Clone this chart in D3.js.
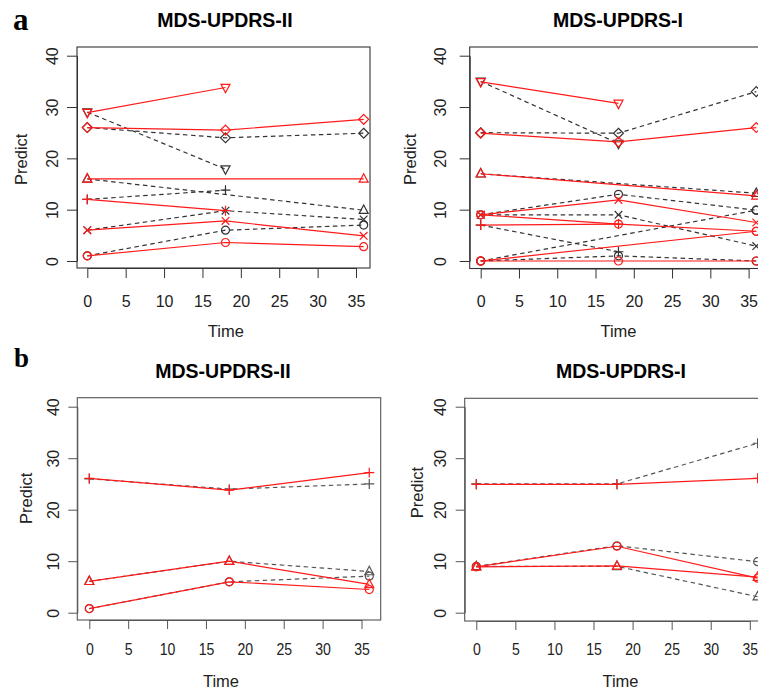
<!DOCTYPE html>
<html>
<head>
<meta charset="utf-8">
<script src="https://cdn.jsdelivr.net/npm/d3@7"></script>
<style>
  body { margin: 0; background: #fff; }
  svg { display: block; }
  text { font-family: "Liberation Sans", Arial, sans-serif; fill: #222; }
</style>
</head>
<body>
<div id="vis-container"></div>
<script>
// Tick values and titles
const xTicks = [0, 5, 10, 15, 20, 25, 30, 35];
const yTicks = [0, 10, 20, 30, 40];
const titles = ["MDS-UPDRS-II", "MDS-UPDRS-I", "MDS-UPDRS-II", "MDS-UPDRS-I"];
const panelLetters = ["a", "b"];

// Panel a, MDS-UPDRS-II (observed = black dashed, predicted = red)
const aIIShapes = ["triangleDown", "diamond", "triangle", "plus", "times", "circle"];
const aIITimes = [[0, 18], [0, 18, 36], [0, 36], [0, 18], [0, 18, 36], [0, 18, 36]];
const aIIObserved = [[29, 17.9], [26, 24, 24.9], [16, 9.9], [12, 13.8], [6, 9.8, 8.1], [1, 6, 7]];
const aIIPredicted = [[28.9, 33.8], [26, 25.5, 27.6], [16, 16], [12, 9.8], [6, 7.8, 4.9], [1, 3.6, 2.8]];

// Panel a, MDS-UPDRS-I
const aIShapes = ["triangleDown", "diamond", "triangle", "circle", "times", "plus", "circle", "circle"];
const aITimes = [[0, 18], [0, 18, 36], [0, 36], [0, 18, 36], [0, 18, 36], [0, 18], [0, 18, 36], [0, 36]];
const aIObserved = [[35, 22.9], [25, 24.9, 33], [17, 13.2], [9, 13, 9.9], [9, 9, 2.9], [7, 1.8], [0, 1, 0], [0, 9.9]];
const aIPredicted = [[34.9, 30.7], [24.9, 23.2, 26], [17, 12.7], [9, 7.2, 5.8], [9, 11.9, 7.5], [7, 7.2], [0, 0, 0], [0, 5.8]];

// Panel b, MDS-UPDRS-II
const bIIShapes = ["plus", "triangle", "circle"];
const bIITimes = [[0, 18, 36], [0, 18, 36], [0, 18, 36]];
const bIIObserved = [[26, 24, 25], [6.1, 10, 8], [0.8, 6, 7.1]];
const bIIPredicted = [[26.1, 23.8, 27.2], [6.1, 10, 5.5], [0.8, 6, 4.5]];

// Panel b, MDS-UPDRS-I
const bIShapes = ["plus", "circle", "triangle"];
const bITimes = [[0, 18, 36], [0, 18, 36], [0, 18, 36]];
const bIObserved = [[25, 25, 32.9], [9, 13, 9.9], [9, 9, 3.1]];
const bIPredicted = [[24.9, 24.9, 26.1], [8.9, 12.9, 6.7], [8.9, 9.1, 6.9]];

const width = 758;
const height = 692;

const svg = d3.select("#vis-container")
  .append("svg")
  .attr("width", width)
  .attr("height", height);

// R-like plotting symbols as custom d3.symbol types
const shapeTypes = {
  circle: { draw(c, s) { const r = Math.sqrt(s) / 2; c.moveTo(r, 0); c.arc(0, 0, r, 0, 2 * Math.PI); } },
  triangle: { draw(c, s) { const h = Math.sqrt(s) / 2; c.moveTo(0, -h * 1.15); c.lineTo(h, h * 0.72); c.lineTo(-h, h * 0.72); c.closePath(); } },
  triangleDown: { draw(c, s) { const h = Math.sqrt(s) / 2; c.moveTo(0, h * 1.15); c.lineTo(h, -h * 0.72); c.lineTo(-h, -h * 0.72); c.closePath(); } },
  diamond: { draw(c, s) { const h = Math.sqrt(s) / 2 * 1.1; c.moveTo(0, -h); c.lineTo(h, 0); c.lineTo(0, h); c.lineTo(-h, 0); c.closePath(); } },
  plus: { draw(c, s) { const h = Math.sqrt(s) / 2 * 1.1; c.moveTo(-h, 0); c.lineTo(h, 0); c.moveTo(0, -h); c.lineTo(0, h); } },
  times: { draw(c, s) { const h = Math.sqrt(s) / 2 * 0.85; c.moveTo(-h, -h); c.lineTo(h, h); c.moveTo(-h, h); c.lineTo(h, -h); } }
};

// Panel placement (pixels)
const panels = [
  { shapes: aIIShapes, times: aIITimes, obs: aIIObserved, pred: aIIPredicted,
    box: [77, 47, 370, 268], xr: [87.3, 356], yr: [261, 55.7], tick: 10,
    title: [225, 26.7], yLabOff: 19, predict: [26.7, 159.3], xLab: 307, time: [225.8, 337],
    frame: "#333", dash: "#333", squeeze: 1 },
  { shapes: aIShapes, times: aITimes, obs: aIObserved, pred: aIPredicted,
    box: [469.7, 47, 775, 268.5], xr: [480.7, 748.6], yr: [261, 55.7], tick: 10,
    title: [618, 26.7], yLabOff: 23.7, predict: [416, 159.3], xLab: 307, time: [618.5, 337],
    frame: "#333", dash: "#333", squeeze: 1 },
  { shapes: bIIShapes, times: bIITimes, obs: bIIObserved, pred: bIIPredicted,
    box: [77.3, 397.7, 380.7, 620], xr: [89.3, 361.5], yr: [612.7, 406.7], tick: 9,
    title: [223, 378], yLabOff: 18.3, predict: [31.7, 498.3], xLab: 655, time: [221, 687],
    frame: "#555", dash: "#555", squeeze: 0.88 },
  { shapes: bIShapes, times: bITimes, obs: bIObserved, pred: bIPredicted,
    box: [464.7, 398.3, 775, 621], xr: [476.3, 749.8], yr: [612.7, 406.7], tick: 9,
    title: [621, 378], yLabOff: 18.4, predict: [423, 492.5], xLab: 655, time: [620.5, 687],
    frame: "#555", dash: "#555", squeeze: 0.88 }
];

panels.forEach((p, i) => {
  const xScale = d3.scaleLinear().domain([0, 35]).range(p.xr);
  const yScale = d3.scaleLinear().domain([0, 40]).range(p.yr);
  const g = svg.append("g");

  // Plot frame
  g.append("rect")
    .attr("x", p.box[0]).attr("y", p.box[1])
    .attr("width", p.box[2] - p.box[0]).attr("height", p.box[3] - p.box[1])
    .attr("fill", "none").attr("stroke", p.frame).attr("stroke-width", 1.1);

  // X axis
  const xAxis = g.append("g")
    .attr("transform", `translate(0,${p.box[3]})`)
    .call(d3.axisBottom(xScale).tickValues(xTicks).tickSize(p.tick).tickSizeOuter(0));
  xAxis.select(".domain").attr("stroke", p.frame);
  xAxis.selectAll(".tick line").attr("stroke", p.frame);
  xAxis.selectAll(".tick text")
    .attr("y", p.xLab - p.box[3]).attr("dy", 0)
    .attr("transform", `scale(${p.squeeze},1)`)
    .attr("font-size", "16px").attr("fill", "#222")
    .attr("font-family", "Liberation Sans, Arial, sans-serif");

  // Y axis with rotated labels
  const yAxis = g.append("g")
    .attr("transform", `translate(${p.box[0]},0)`)
    .call(d3.axisLeft(yScale).tickValues(yTicks).tickSize(p.tick).tickSizeOuter(0));
  yAxis.select(".domain").attr("stroke", p.frame);
  yAxis.selectAll(".tick line").attr("stroke", p.frame);
  yAxis.selectAll(".tick text")
    .attr("x", 0).attr("y", -p.yLabOff).attr("dy", 0)
    .attr("transform", "rotate(-90)")
    .attr("text-anchor", "middle")
    .attr("font-size", "16px").attr("fill", "#222")
    .attr("font-family", "Liberation Sans, Arial, sans-serif");

  // Titles and axis labels
  g.append("text")
    .attr("x", p.title[0]).attr("y", p.title[1])
    .attr("text-anchor", "middle")
    .attr("font-size", "19.5px").attr("font-weight", "bold").style("fill", "#000")
    .text(titles[i]);

  g.append("text")
    .attr("transform", `translate(${p.predict[0]},${p.predict[1]}) rotate(-90)`)
    .attr("text-anchor", "middle")
    .attr("font-size", "16.5px")
    .text("Predict");

  g.append("text")
    .attr("x", p.time[0]).attr("y", p.time[1])
    .attr("text-anchor", "middle")
    .attr("font-size", "16.5px")
    .text("Time");

  const line = d3.line()
    .x((d) => xScale(d[0]))
    .y((d) => yScale(d[1]));

  const drawSeries = (values, color, dashed) => {
    values.forEach((vals, k) => {
      const pts = p.times[k].map((t, j) => [t, vals[j]]);
      g.append("path")
        .datum(pts)
        .attr("d", line)
        .attr("fill", "none")
        .attr("stroke", color)
        .attr("stroke-width", 1.2)
        .attr("stroke-dasharray", dashed ? "4.5,3.5" : null);
      g.selectAll(null)
        .data(pts)
        .enter()
        .append("path")
        .attr("transform", (d) => `translate(${xScale(d[0])},${yScale(d[1])})`)
        .attr("d", d3.symbol().type(shapeTypes[p.shapes[k]]).size(p.shapes[k] === "circle" ? 64 : 81))
        .attr("fill", "none")
        .attr("stroke", color)
        .attr("stroke-width", 1.2);
    });
  };

  drawSeries(p.obs, p.dash, true);
  drawSeries(p.pred, "#ff1a1a", false);
});

// Figure letters
svg.append("text")
  .attr("x", 13).attr("y", 30)
  .style("font-family", "Liberation Serif, Times New Roman, serif")
  .style("fill", "#000")
  .attr("font-weight", "bold").attr("font-size", "31px")
  .text(panelLetters[0]);

svg.append("text")
  .attr("x", 14).attr("y", 367)
  .style("font-family", "Liberation Serif, Times New Roman, serif")
  .style("fill", "#000")
  .attr("font-weight", "bold").attr("font-size", "27px")
  .text(panelLetters[1]);
</script>
</body>
</html>
